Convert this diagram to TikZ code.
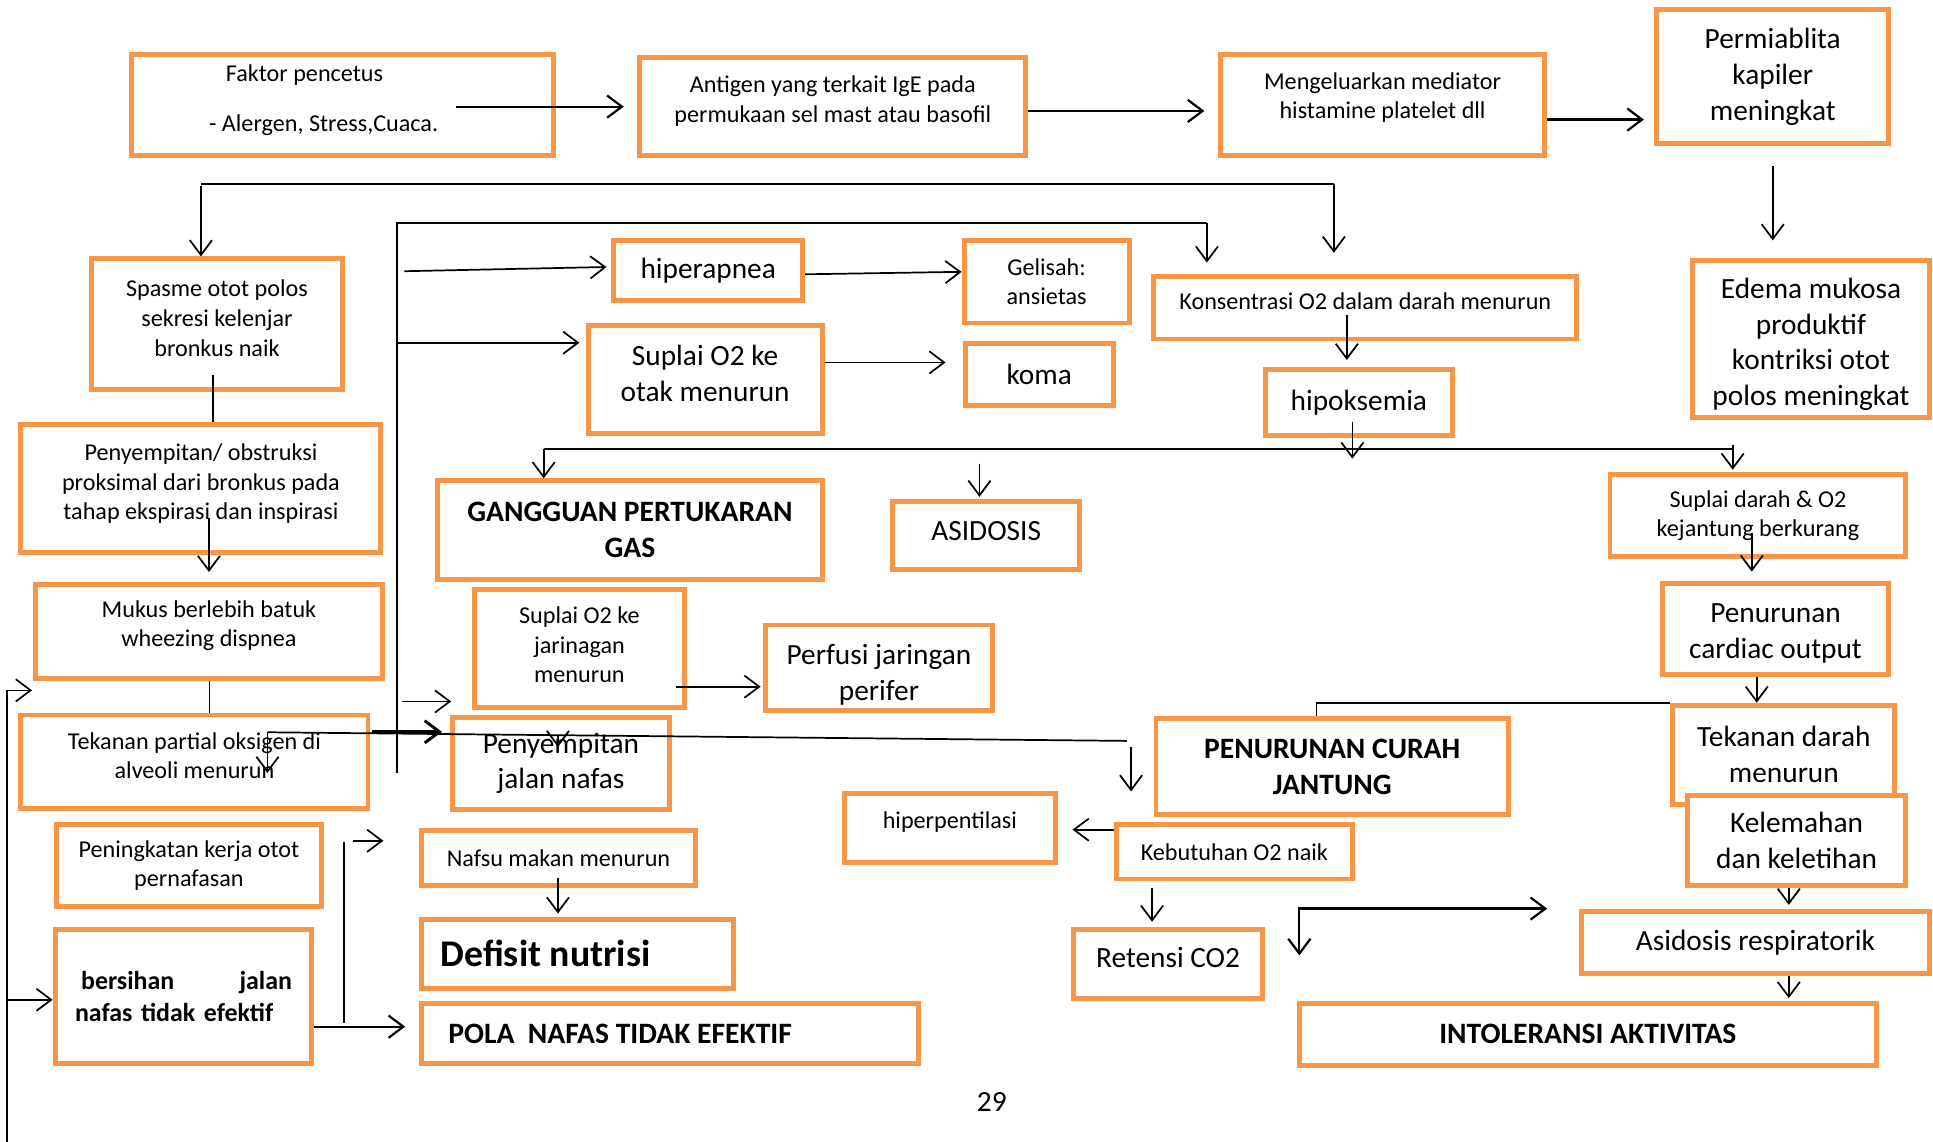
\documentclass[tikz,border=0pt]{standalone}
\usepackage{fontspec}
\setmainfont{Carlito}
\usetikzlibrary{arrows.meta}
\definecolor{boxorange}{HTML}{F79646}

\begin{document}
\begin{tikzpicture}[x=0.5pt,y=-0.5pt]
\tikzstyle{box} = [draw=boxorange,line width=2pt,fill=white,inner sep=1pt]
\tikzstyle{small} = [font=\fontsize{9.8}{12}\selectfont,align=center]
\tikzstyle{big} = [font=\fontsize{11.9}{14.5}\selectfont,align=center]
\tikzstyle{bigbold} = [font=\fontsize{12}{14.5}\selectfont\bfseries,align=center]
\tikzstyle{bold} = [font=\fontsize{10.5}{13}\selectfont\bfseries]
\tikzstyle{arr} = [-{Straight Barb[length=6pt,width=9pt]},line width=0.7pt]
\tikzstyle{arrs} = [{Straight Barb[length=6pt,width=9pt]}-{Straight Barb[length=6pt,width=9pt]},line width=0.7pt]
\tikzstyle{ln} = [line width=0.7pt]
\useasboundingbox (0,0) rectangle (1568,926);
  %top row
  \node[box,small,text depth=5.3pt,minimum width=171pt,minimum height=41pt] (faktor) at (278,85)
     {Faktor pencetus\hspace*{31pt}\\[8pt]- Alergen, Stress,Cuaca.\hspace*{15.5pt}};
  \node[box,small,text depth=6.3pt,minimum width=156.5pt,minimum height=39.5pt] (antigen) at (675.5,86.5)
     {Antigen yang terkait IgE pada\\permukaan sel mast atau basofil};
  \node[box,small,text depth=7.3pt,minimum width=131.5pt,minimum height=41pt] (mengel) at (1121.5,85)
     {Mengeluarkan mediator\\histamine platelet dll};
  \node[box,big,minimum width=94pt,minimum height=54.25pt] (permi) at (1438,62.25)
     {Permiablita\\kapiler\\meningkat};
  %second row
  \node[box,small,text depth=5pt,minimum width=102pt,minimum height=53pt] (spasme) at (176,263)
     {Spasme otot polos\\sekresi kelenjar\\bronkus naik};
  \node[box,big,minimum width=76.5pt,minimum height=24.5pt] (hiperap) at (574.5,219.5) {hiperapnea};
  \node[box,small,minimum width=67pt,minimum height=33.5pt] (gelisah) at (849,228.5) {Gelisah:\\ansietas};
  \node[box,small,text depth=5pt,minimum width=171.5pt,minimum height=25.5pt] (konsen) at (1107.5,249.5)
     {Konsentrasi O2 dalam darah menurun};
  \node[box,big,text height=56pt,minimum width=96pt,minimum height=64pt] (edema) at (1469,275)
     {Edema mukosa\\produktif\\kontriksi otot\\polos meningkat};
  \node[box,big,text depth=5pt,minimum width=95pt,minimum height=44pt] (suplaiotak) at (572,308)
     {Suplai O2 ke\\otak menurun};
  \node[box,big,minimum width=60pt,minimum height=25pt] (koma) at (843,304) {koma};
  \node[box,big,minimum width=75.75pt,minimum height=26.75pt] (hipoks) at (1102.25,326.25) {hipoksemia};
  %middle
  \node[box,small,text depth=5.3pt,minimum width=146pt,minimum height=52pt] (obstruksi) at (163,396)
     {Penyempitan/ obstruksi\\proksimal dari bronkus pada\\tahap ekspirasi dan inspirasi};
  \node[box,bigbold,minimum width=156pt,minimum height=40pt] (gangguan) at (511,430)
     {GANGGUAN PERTUKARAN\\GAS};
  \node[box,big,text depth=4pt,minimum width=76pt,minimum height=27.5pt] (asidosis) at (800,434.5) {ASIDOSIS};
  \node[box,small,minimum width=120pt,minimum height=33.25pt] (suplaidarah) at (1426,418.25)
     {Suplai darah \& O2\\kejantung berkurang};
  \node[box,small,text depth=6.3pt,minimum width=140.5pt,minimum height=38pt] (mukus) at (169.5,512)
     {Mukus berlebih batuk\\wheezing dispnea};
  \node[box,small,text depth=3pt,minimum width=85pt,minimum height=48pt] (suplaijar) at (470,526)
     {Suplai O2 ke\\jarinagan\\menurun};
  \node[box,big,text height=28.5pt,minimum width=92pt,minimum height=34.5pt] (perfusi) at (713,541.5)
     {Perfusi jaringan\\perifer};
  \node[box,big,text height=26.2pt,minimum width=91.75pt,minimum height=37pt] (penurunanco) at (1440.25,510)
     {Penurunan\\cardiac output};
  \node[box,small,text depth=5pt,minimum width=140.75pt,minimum height=38pt] (tekpartial) at (157.75,618)
     {Tekanan partial oksigen di\\alveoli menurun};
  \node[box,big,minimum width=88pt,minimum height=37.3pt] (penyempitan) at (455,619.3)
     {Penyempitan\\jalan nafas};
  \node[box,bigbold,minimum width=143pt,minimum height=39pt] (curah) at (1080.7,622)
     {PENURUNAN CURAH\\JANTUNG};
  \node[box,big,minimum width=90pt,minimum height=40.25pt] (tekdarah) at (1447,612.25)
     {Tekanan darah\\menurun};
  \node[box,small,text depth=6.3pt,minimum width=85.5pt,minimum height=27.8pt] (hiperpent) at (770.5,671.8)
     {hiperpentilasi};
  \node[box,big,minimum width=88.7pt,minimum height=36.5pt] (kelemahan) at (1457.3,681.5)
     {Kelemahan\\dan keletihan};
  %bottom
  \node[box,small,minimum width=107.25pt,minimum height=33.25pt] (peningkatan) at (153.25,702.25)
     {Peningkatan kerja otot\\pernafasan};
  \node[box,small,minimum width=111pt,minimum height=22pt] (nafsu) at (453,696) {Nafsu makan menurun};
  \node[box,small,minimum width=95.7pt,minimum height=22pt] (kebutuhan) at (1001.3,691) {Kebutuhan O2 naik};
  \node[box,font=\fontsize{15.3}{18}\selectfont\bfseries,minimum width=126.5pt,minimum height=28pt] (defisit)
     at (468.5,773.6) {Defisit nutrisi\hspace*{26pt}};
  \node[box,big,text depth=5pt,minimum width=76.5pt,minimum height=28pt] (retensi) at (947.5,781.7) {Retensi CO2};
  \node[box,big,minimum width=141pt,minimum height=25.2pt] (asresp) at (1424,764.8) {Asidosis respiratorik};
  \node[box,bold,text width=88pt,align=left,minimum width=104.15pt,minimum height=54.5pt] (bersihan)
     at (148.85,808.2) {\hspace*{2.5pt}bersihan\hfill jalan\\nafas tidak efektif};
  \node[box,bigbold,minimum width=201.5pt,minimum height=24.65pt] (pola) at (543.5,838.35)
     {POLA\ \ NAFAS TIDAK EFEKTIF\hspace*{40.5pt}};
  \node[box,bigbold,minimum width=234pt,minimum height=25.15pt] (intol) at (1288,838.85) {INTOLERANSI AKTIVITAS};
  \node[big] (page) at (804.5,893.6) {29};

  %arrows top row
  \draw[arr,line width=0.9pt,shorten >=5.5pt] (370,86.5) coordinate (f1) -- (f1 -| antigen.west);
  \draw[arr,line width=0.9pt,shorten >=5.5pt] ([yshift=-1.75pt]antigen.east) coordinate (a1) -- (a1 -| mengel.west);
  \draw[arr,line width=0.9pt,shorten >=4.25pt] ([yshift=-6pt]mengel.east) coordinate (m1) -- (m1 -| permi.west);
  \draw[arr,shorten >=7pt] ([yshift=-8.25pt]permi.south) coordinate (p1) -- (p1 |- edema.north);
  %bus under top row
  \coordinate (bus1) at (163,149);
  \coordinate (bus2) at (1082,149);
  \draw[ln] (bus1) -- (bus2);
  \draw[arr] ([yshift=-1pt]bus1) -- (bus1 |- spasme.north);
  \draw[arr,shorten >=8.5pt] (bus2) -- (bus2 |- konsen.north);
  %second bus
  \coordinate (bus3) at (322,181);
  \coordinate (bus4) at (979,181);
  \draw[ln] (322,627) -- (bus3) -- (bus4);
  \draw[arr,shorten >=4.5pt] (bus4) -- (bus4 |- konsen.north);
  \draw[arr,shorten >=2pt] (328,220) -- ([yshift=1.5pt]hiperap.west);
  \draw[arr,shorten >=2.5pt] (322,278) coordinate (v1) -- (v1 -| suplaiotak.west);
  \draw[arr,shorten >=8.5pt] (326,569) coordinate (v2) -- (v2 -| suplaijar.west);
  \draw[arr] ([yshift=-1.5pt]hiperap.east) -- ([yshift=4pt]gelisah.west);
  \draw[arr,shorten >=7pt] ([yshift=7pt]suplaiotak.east) coordinate (o1) -- (o1 -| koma.west);
  \draw[arr,shorten >=2.75pt] (1092.5,255.5) coordinate (k1) -- (k1 |- hipoks.north);
  %third bus
  \draw[arr] (1097,342) coordinate (h1) -- ++(0,30);
  \coordinate (bus5) at (441,364);
  \coordinate (bus6) at (1405.5,364);
  \draw[ln] (bus5) -- (bus6);
  \draw[arr] (bus5) -- (bus5 |- gangguan.north);
  \draw[arr,shorten >=1pt] ([yshift=1.5pt]bus6) -- (bus6 |- suplaidarah.north);
  \draw[arr,shorten >=1pt] (794.5,376) coordinate (as1) -- (as1 |- asidosis.north);
  %left column
  \draw[ln] (173,304) coordinate (s1) -- (s1 |- obstruksi.north);
  \draw[arr,shorten >=4pt] (169.5,420) coordinate (s2) -- (s2 |- mukus.north);
  \draw[ln] (170,552) coordinate (s3) -- (s3 |- tekpartial.north);
  \draw[arr] (217,594) coordinate (t1) -- ++(0,33);
  \draw[ln] (t1) -- (914,601);
  \draw[arr,line width=1.2pt,shorten >=3.25pt] (302,593.6) coordinate (t2) -- (t2 -| penyempitan.west);
  \draw[arr] (917.5,606) -- ++(0,36);
  \draw[arr] (452.6,596) -- ++(0,10);
  \draw[arr,shorten >=1pt] (548.6,557) coordinate (j1) -- (j1 -| perfusi.west);
  \coordinate (l1) at (5.4,560);
  \draw[ln] (l1) -- (5.4,926);
  \draw[arr,shorten >=0.5pt] (l1) -- (l1 -| mukus.west);
  \draw[arr] (5.4,811) coordinate (l2) -- (l2 -| bersihan.west);
  \draw[ln] (279,683) -- (279,830);
  \draw[arr] (286,682) -- ++(25,0);
  \draw[arr,line width=0.9pt,shorten >=5.65pt] ([yshift=-12.3pt]bersihan.east) coordinate (b1) -- (b1 -| pola.west);
  \draw[arr,shorten >=1.3pt] (452.6,712) coordinate (n1) -- (n1 |- defisit.north);
  %right part
  \draw[arr,shorten >=6pt] ([yshift=9pt]kebutuhan.west) coordinate (kb1) -- (kb1 -| hiperpent.east);
  \draw[arr,shorten >=2pt] (934.5,720) coordinate (kb2) -- (kb2 |- retensi.north);
  \draw[arrs,line width=0.9pt,shorten >=13pt] (1054,775) -- (1054,737) coordinate (c1) -- (c1 -| asresp.west);
  \draw[arr,shorten >=3.65pt] (1421,432.5) coordinate (sd1) -- (sd1 |- penurunanco.north);
  \draw[arr] (1425,549) coordinate (pc1) -- (pc1 |- tekdarah.north);
  \draw[ln] (tekdarah.north west) -- (1068,570) coordinate (cu1) -- (cu1 |- curah.north);
  \draw[arr,shorten >=1.8pt] (1451,720) coordinate (ke1) -- (ke1 |- asresp.north);
  \draw[arr,shorten >=1pt] (1451,792) coordinate (ar1) -- (ar1 |- intol.north);
\end{tikzpicture}
\end{document}
